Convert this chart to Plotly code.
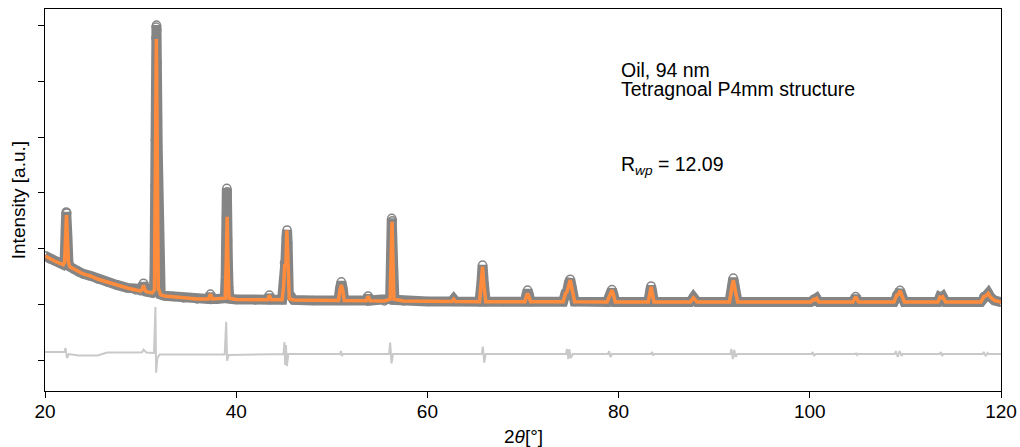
import plotly.graph_objects as go

# 2-theta / intensity of the measured pattern (open circles)
obs_2theta = [
    20.0, 20.5, 21.0, 21.5, 21.9, 22.05, 22.15, 22.22, 22.28, 22.35, 22.45, 22.6,
    23.0, 23.5, 24.0, 24.75, 25.5, 26.5, 27.5, 28.6, 29.5, 30.0, 30.15, 30.3, 30.45,
    30.6, 31.2, 31.40, 31.46, 31.49, 31.50, 31.52, 31.54, 31.57, 31.60, 31.63, 31.66,
    31.69, 31.72, 31.76, 31.79, 31.83, 31.86, 31.89, 31.93, 31.98, 32.1, 32.5, 33.4,
    34.5, 35.9, 37.1, 37.3, 37.5, 38.0, 38.8, 38.9, 38.95, 38.98, 39.0, 39.02, 39.05,
    39.08, 39.1, 39.13, 39.2, 39.3, 40.0, 42.0, 43.3, 43.47, 43.65, 44.8, 44.95, 45.05,
    45.15, 45.25, 45.32, 45.38, 45.5, 46.0, 48.0, 50.7, 50.85, 51.0, 51.15, 51.3, 53.6,
    53.8, 54.0, 55.5, 56.1, 56.2, 56.27, 56.33, 56.42, 56.55, 57.5, 60.0, 62.55, 62.75,
    62.95, 65.45, 65.65, 65.77, 65.9, 66.1, 68.0, 70.2, 70.35, 70.48, 70.62, 70.8, 74.2,
    74.45, 74.6, 74.8, 74.94, 75.1, 75.4, 78.8, 79.05, 79.15, 79.3, 79.45, 79.65, 83.1,
    83.3, 83.4, 83.5, 83.7, 87.5, 87.83, 88.2, 91.6, 91.85, 92.0, 92.15, 92.45, 100.1,
    100.4, 100.55, 100.7, 100.95, 104.5, 104.8, 105.1, 108.8, 109.1, 109.25, 109.44,
    109.6, 109.9, 113.4, 113.6, 113.75, 113.9, 114.2, 117.9, 118.2, 118.4, 118.67,
    118.9, 119.3, 120.0,
]
obs_intensity = [
    1870, 1815, 1780, 1745, 1712, 1750, 2300, 2657, 2640, 2200, 1750, 1675,
    1635, 1582, 1546, 1510, 1456, 1402, 1348, 1294, 1258, 1242, 1275, 1380, 1270,
    1227, 1207, 1250, 1616, 2154, 2513, 3123, 3949, 4882, 5780, 5977, 6013,
    5924, 5337, 4344, 3823, 2908, 2369, 1885, 1472, 1256, 1175, 1152, 1138,
    1115, 1097, 1097, 1185, 1097, 1097, 1110, 1500, 2034, 2573, 2962, 3082, 3021,
    2813, 2154, 1765, 1300, 1100, 1088, 1079, 1082, 1167, 1082, 1082, 1300, 1740,
    1760, 2200, 2334, 2100, 1200, 1079, 1070, 1070, 1280, 1405, 1280, 1070, 1067,
    1150, 1067, 1061, 1100, 1900, 2544, 2500, 1700, 1080, 1061, 1052, 1052, 1095,
    1052, 1048, 1380, 1705, 1380, 1048, 1048, 1048, 1170, 1256, 1170, 1048, 1048,
    1205, 1225, 1390, 1450, 1310, 1048, 1043, 1155, 1185, 1265, 1185, 1043, 1043,
    1240, 1330, 1240, 1043, 1043, 1125, 1043, 1043, 1320, 1472, 1320, 1043, 1040,
    1092, 1082, 1110, 1040, 1040, 1140, 1040, 1040, 1168, 1172, 1250,
    1172, 1040, 1040, 1130, 1117, 1138, 1040, 1040, 1138, 1152, 1200,
    1132, 1070, 1040,
]

# Refined (calculated) profile
calc_2theta = [
    20.0, 20.5, 21.0, 21.5, 21.9, 22.05, 22.15, 22.25, 22.35, 22.45, 22.6, 23.0,
    23.5, 24.0, 24.75, 25.5, 26.5, 27.5, 28.6, 29.5, 30.0, 30.15, 30.3, 30.45, 30.6,
    31.2, 31.45, 31.55, 31.65, 31.75, 31.85, 32.1, 32.5, 33.4, 34.5, 35.9, 37.1, 37.3,
    37.5, 38.0, 38.85, 38.97, 39.05, 39.13, 39.25, 40.0, 42.0, 43.3, 43.47, 43.65,
    44.8, 44.95, 45.08, 45.2, 45.3, 45.4, 45.55, 46.0, 48.0, 50.7, 50.85, 51.0, 51.15,
    51.3, 53.6, 53.8, 54.0, 55.5, 56.1, 56.2, 56.3, 56.4, 56.5, 57.5, 60.0, 62.55,
    62.75, 62.95, 65.45, 65.65, 65.77, 65.9, 66.1, 68.0, 70.2, 70.35, 70.48, 70.62,
    70.8, 74.2, 74.45, 74.6, 74.8, 74.94, 75.1, 75.4, 78.8, 79.05, 79.15, 79.3, 79.45,
    79.65, 83.1, 83.3, 83.4, 83.5, 83.7, 87.5, 87.83, 88.2, 91.6, 91.85, 92.0, 92.15,
    92.45, 100.1, 100.4, 100.55, 100.7, 100.95, 104.5, 104.8, 105.1, 108.8, 109.1,
    109.25, 109.44, 109.6, 109.9, 113.4, 113.6, 113.75, 113.9, 114.2, 117.9, 118.2,
    118.4, 118.67, 118.9, 119.3, 120.0,
]
calc_intensity = [
    1867, 1813, 1777, 1741, 1710, 1760, 2180, 2600, 2180, 1760, 1672, 1633,
    1580, 1544, 1508, 1454, 1400, 1346, 1292, 1256, 1240, 1260, 1340, 1260, 1225,
    1205, 1260, 3500, 5760, 3500, 1290, 1170, 1150, 1136, 1113, 1095, 1095, 1180,
    1095, 1095, 1110, 1840, 2570, 1840, 1110, 1086, 1077, 1080, 1160, 1080,
    1080, 1300, 1720, 1700, 2330, 1800, 1100, 1077, 1068, 1068, 1250, 1345, 1250,
    1068, 1065, 1145, 1065, 1059, 1090, 1780, 2480, 1780, 1090, 1059, 1050, 1050,
    1090, 1050, 1046, 1360, 1675, 1360, 1046, 1046, 1046, 1140, 1197, 1140,
    1046, 1046, 1200, 1220, 1380, 1436, 1300, 1046, 1041, 1150, 1180, 1256, 1180,
    1041, 1041, 1230, 1316, 1230, 1041, 1041, 1118, 1041, 1041, 1300, 1436, 1300,
    1041, 1040, 1090, 1080, 1105, 1040, 1040, 1135, 1040, 1040, 1165,
    1170, 1244, 1170, 1040, 1040, 1128, 1115, 1135, 1040, 1040, 1136,
    1150, 1197, 1130, 1070, 1040,
]

# Difference curve (observed - calculated), shifted below the pattern
diff_2theta = [
    20.0, 21.5, 22.05, 22.15, 22.3, 22.5, 23.5, 25.5, 26.5, 29.5, 30.15, 30.3,
    30.6, 31.4, 31.55, 31.62, 31.75, 32.0, 38.8, 38.95, 39.05, 39.2, 44.95, 45.05,
    45.12, 45.2, 45.3, 45.45, 50.85, 50.95, 51.05, 51.2, 56.0, 56.1, 56.25, 56.4,
    65.7, 65.8, 65.95, 66.1, 74.5, 74.6, 74.75, 74.85, 75.0, 75.2, 78.9, 79.0,
    79.15, 79.3, 83.4, 83.5, 83.6, 83.7, 91.7, 91.8, 91.95, 92.1, 92.25, 92.4,
    100.2, 100.3, 100.45, 100.6, 104.8, 104.85, 104.95, 105.05, 108.9, 109.0,
    109.2, 109.4, 109.6, 109.7, 113.6, 113.7, 113.85, 113.95, 118.1, 118.2,
    118.4, 118.6, 118.7, 120.0,
]
diff_intensity = [
    144, 153, 150, 215, 36, 108, 81, 81, 135, 135, 140, 188,
    135, 126, 951, -228, 36, 99, 99, 687, -13, 90, 108, 323,
    -90, 269, -108, 108, 108, 162, 72, 108, 108, 311, -59, 108,
    108, 239, -48, 108, 108, 197, 18, 197, 36, 108, 108, 162,
    54, 108, 108, 144, 81, 108, 108, 197, 18, 180, 54, 108,
    108, 144, 72, 108, 108, 126, 90, 108, 108, 162,
    54, 162, 72, 108, 108, 144, 72, 108, 108, 144,
    72, 126, 108, 108,
]

x_ticks = [20, 40, 60, 80, 100, 120]
y_ticks = [0, 1000, 2000, 3000, 4000, 5000, 6000]

GRAY = "#858585"
ORANGE = "#ff8c3c"
DIFF = "#c9c9c9"
FONT = "Liberation Sans, Arial, sans-serif"

fig = go.Figure()

fig.add_trace(go.Scatter(
    x=diff_2theta, y=diff_intensity, mode="lines",
    line=dict(color=DIFF, width=2), name="difference", hoverinfo="skip",
))
fig.add_trace(go.Scatter(
    x=obs_2theta, y=obs_intensity, mode="lines+markers",
    line=dict(color=GRAY, width=10),
    marker=dict(symbol="circle-open", size=8, color=GRAY, line=dict(width=1.5)),
    name="observed",
))
fig.add_trace(go.Scatter(
    x=calc_2theta, y=calc_intensity, mode="lines",
    line=dict(color=ORANGE, width=3.5), name="calculated",
))

annotations = [
    dict(x=80.0, y=5199, xref="x", yref="y", text="Oil, 94 nm",
         showarrow=False, xanchor="left", yanchor="middle",
         font=dict(size=19.5, color="black", family=FONT)),
    dict(x=80.0, y=4858, xref="x", yref="y", text="Tetragnoal P4mm structure",
         showarrow=False, xanchor="left", yanchor="middle",
         font=dict(size=19.5, color="black", family=FONT)),
    dict(x=80.0, y=3500, xref="x", yref="y",
         text="R<sub><i>wp</i></sub> = 12.09",
         showarrow=False, xanchor="left", yanchor="middle",
         font=dict(size=19.5, color="black", family=FONT)),
    dict(x=0.5, y=-0.12, xref="paper", yref="paper", text="2<i>θ</i>[°]",
         showarrow=False, xanchor="center", yanchor="middle",
         font=dict(size=19, color="black", family=FONT)),
    dict(x=-0.028, y=0.5, xref="paper", yref="paper", text="Intensity [a.u.]",
         textangle=-90, showarrow=False, xanchor="center", yanchor="middle",
         font=dict(size=19, color="black", family=FONT)),
]

fig.update_layout(
    width=1020, height=447,
    margin=dict(l=45, r=19, t=9, b=56, pad=0),
    paper_bgcolor="white", plot_bgcolor="white",
    showlegend=False,
    annotations=annotations,
    font=dict(family=FONT, size=19, color="black"),
)
fig.update_xaxes(
    range=[20, 120], tickvals=x_ticks, ticktext=[str(v) for v in x_ticks],
    ticks="outside", ticklen=6, tickwidth=1, tickcolor="black",
    ticklabelstandoff=-3,
    showline=True, linecolor="black", linewidth=1, mirror=True,
    showgrid=False, zeroline=False, automargin=False,
    tickfont=dict(size=19, family=FONT, color="black"),
)
fig.update_yaxes(
    range=[-556, 6300], tickvals=y_ticks, showticklabels=False,
    ticks="outside", ticklen=6, tickwidth=1, tickcolor="black",
    showline=True, linecolor="black", linewidth=1, mirror=True,
    showgrid=False, zeroline=False, automargin=False,
)

fig.write_html("out.html")
